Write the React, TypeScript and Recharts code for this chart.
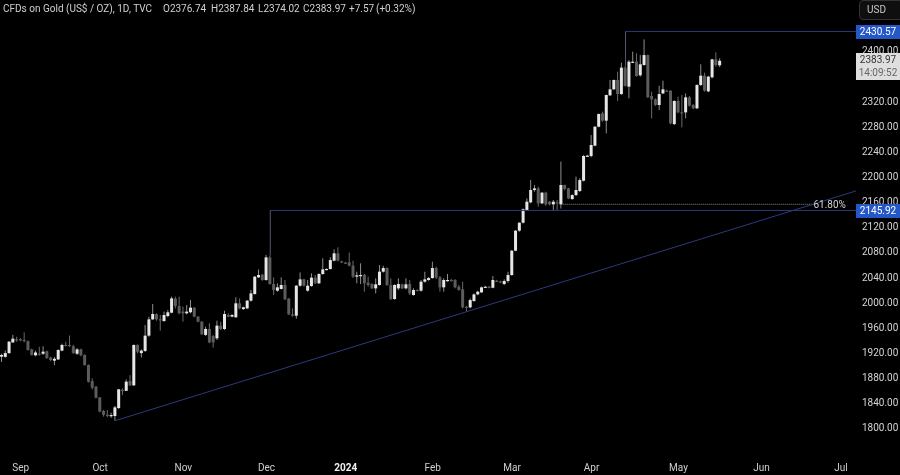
import React from 'react';
import { ComposedChart, Bar, XAxis, YAxis, ReferenceLine, ReferenceDot } from 'recharts';

// [open, high, low, close]
const candlesSepOct: number[][] = [
[1913.4,1918,1905,1916],[1913,1923,1912,1919],[1919,1938,1918,1937.2],[1936,1948,1935.6,1942],[1941,1945,1937,1940],[1941,1943,1938,1940.3],
[1940,1952,1936,1939],[1938,1939,1923,1924],[1925,1926,1915,1916],[1915.5,1923,1914,1920],[1918,1929,1915,1917],
[1918,1930,1916,1921.3],[1922,1923,1910,1911],[1912,1913,1906,1908],[1907,1913,1900,1910],[1909,1925,1908,1924],
[1923,1934,1922,1932],[1932,1937,1930,1931],[1932,1947,1929,1931],[1930,1932,1918,1919],[1918,1927,1916,1925],
[1925,1926,1914,1915.5],[1916,1917,1899,1900],[1900,1901,1872,1873.6],[1874.6,1879,1861,1864],[1865.6,1867,1847,1848],
[1848.6,1849,1825,1826],[1827,1828.5,1818,1821],[1821,1828.5,1817,1820],[1820,1824.3,1816,1820.5],[1819,1835,1811.6,1832.7],
[1831.7,1862,1830,1861.4],[1860.5,1863,1852,1859],[1859,1877,1858.7,1873.6],[1874.6,1884,1866.7,1867.7],[1867.7,1932.6,1867,1932],
[1932,1933,1918.7,1921.3],[1919,1925,1912,1923],[1922.4,1963.7,1921,1946.8],[1946.8,1977,1945,1972.7],[1972.7,1997,1971.7,1981.2],
[1981,1982.3,1970.6,1972.7],[1973,1979.6,1954.7,1972.5],[1970,1985,1969,1979.6],[1978,1987.6,1976,1983.9],[1983.3,2008.8,1982.3,2006],
[2006,2008.8,1990,1994],[1994,2008.8,1980.7,1982.3],
];
const candlesNovDec: number[][] = [
[1985,1993,1969,1982.3],[1982.3,1995.5,1980.7,1985],[1984,2003.5,1982.3,1991.3],[1991.3,1992,1976,1977],[1977,1978,1968,1969],
[1969,1970,1947.8,1948.9],[1948,1961,1946.2,1957.4],[1957.4,1966.4,1934.6,1936],[1946,1947.8,1927.7,1936],[1942.5,1970.6,1939.9,1962.7],
[1962.7,1969,1955.8,1957.4],[1957.4,1986.5,1955.8,1981.2],[1979.6,1982.3,1976,1977],[1977,1981,1976,1979.6],[1976,2007.7,1975.4,1998.2],
[1998.2,2006,1988.6,1990.2],[1989,1993,1988,1991.8],[1990.2,2003.5,1989,2002.4],[2002.4,2019.4,2000.8,2014],[2013,2041.6,2012,2040.6],
[2039.5,2052,2038.4,2043.2],[2043.7,2044.8,2034,2035.3],[2035.3,2075,2034,2071.3],[2071.3,2074,2028,2028.9],[2028.9,2039.5,2011.4,2019.3],
[2018.3,2030,2016.7,2023.6],[2021,2039.5,2020.4,2027.3],[2027.3,2035.3,2003.4,2004.5],[2005.6,2006.5,1979.5,1980.6],[1980.6,1990,1977,1978.5],
[1978.5,2027.3,1973.7,2026.2],[2026.2,2047.4,2024.6,2036.3],[2036.3,2037.3,2025,2026.2],[2018.3,2035.3,2016.7,2026.2],[2025.7,2045.9,2024.6,2039],
[2039,2043.2,2028.9,2030],[2030,2046,2029,2044.8],[2044.8,2069.7,2043.7,2052.2],[2052.2,2054,2051,2052.8],[2052.7,2071.3,2052.2,2067],
[2066,2084,2065,2077.7],[2077.7,2087.2,2065,2066],[2065,2066,2062,2063.4],
];
const candlesJanFeb: number[][] = [
[2063,2064,2061,2062.4],[2063.4,2078.7,2057,2058],[2058,2066,2038.4,2040.6],[2040.6,2048.5,2030,2042.7],[2041.6,2061.8,2028.9,2043.2],
[2043.7,2044.8,2016.7,2030],[2031,2040.6,2024.6,2027.3],[2028.9,2030,2021,2022],[2022,2037.9,2014,2028.4],[2027.3,2059,2026.2,2048.5],
[2048.5,2058,2047,2054.3],[2054.3,2055.3,2026,2027.3],[2027.3,2037.9,2003.4,2005],[2005,2028.5,2004,2027.3],[2022,2037.9,2019.3,2028.9],
[2028.4,2029.5,2021,2022],[2022,2037.9,2020.4,2028.4],[2028.9,2035.3,2011.4,2014],[2011.4,2022,2010.3,2019.3],[2019.3,2020.5,2018,2019],
[2018.3,2035.3,2016.7,2032.6],[2032.6,2048.5,2031,2036.3],[2035.3,2040,2034,2038.4],[2038.4,2064.4,2037.4,2054.3],[2054.3,2056.5,2036.8,2039],
[2039.5,2041.6,2016.7,2023.6],[2023.6,2037.9,2016.7,2035.3],[2035,2044.8,2032.6,2035.3],[2035.3,2037,2033,2034.8],[2035.3,2036.8,2022,2023.6],
[2024.6,2027.3,2018.3,2019.3],[2020.4,2032.6,1990.2,1991.8],[1992.8,1994,1984.9,1991.2],[1991.8,2006,1990.2,2003.4],[2001.8,2014,2000.8,2012.4],
[2012.4,2018,2011,2016.7],[2015.6,2025,2015,2023.6],[2023.6,2026,2023,2024.6],[2024.6,2026,2022,2023],[2023,2041.6,2022,2035.3],
[2034,2035.5,2033,2033.7],[2033,2034,2031,2032.6],[2028.9,2036.3,2027.3,2033.7],[2033.7,2048.5,2031,2043.2],
];
const candlesMarMay: number[][] = [
[2043.2,2083,2042,2081.9],[2081.9,2114.8,2081,2113.7],[2113.7,2127,2112,2126.4],[2126.4,2149,2125,2147.7],[2146.6,2165,2146,2159.8],
[2158.8,2194.3,2157.2,2178.4],[2178.4,2186.3,2175.7,2181],[2181,2183.7,2151.9,2157.2],[2157.2,2175,2156,2174.2],[2174.2,2175.7,2153,2155.6],
[2159.8,2161,2154,2155.6],[2155.6,2162.5,2145.5,2159.8],[2158.8,2162.5,2146.6,2158.2],[2155.6,2223.5,2149,2186.3],[2186.3,2187,2178,2180],
[2181,2182,2164,2165],[2164,2171.5,2163,2170.4],[2170.4,2199.6,2168.8,2178.4],[2176.8,2197,2175.2,2194.3],[2193.2,2234,2192,2232.5],
[2232.5,2234.5,2231,2233],[2232.5,2265.9,2230.4,2250],[2248.9,2280,2248,2279.1],[2279.1,2300,2278,2299.3],[2300.3,2303,2287,2288.7],
[2288.7,2330,2268.5,2329.5],[2329,2353.4,2328,2338.5],[2338.5,2354,2338,2353.4],[2353.4,2366.6,2320,2331.1],[2331.1,2381,2329.5,2373],
[2373,2376,2343,2343.8],[2342.8,2385,2324.2,2382.5],[2382,2398.4,2381,2382.5],[2382.5,2395.8,2358.7,2359.7],[2360.8,2393,2358.7,2378.3],
[2377.2,2418,2376.2,2393],[2393,2394,2325,2325.8],[2327.9,2334.8,2292.4,2322.6],[2322.6,2324.2,2312,2313.6],[2313.6,2344.3,2305.6,2331],
[2332,2352.3,2331,2338.5],[2336.4,2338,2335,2336],[2336.4,2337,2283,2284.4],[2283.3,2321,2281.8,2320],[2320,2326.9,2300.3,2302],
[2302,2329.5,2278,2301.5],[2301.9,2332,2292.4,2325.8],[2325.8,2328,2311,2312.5],[2313.6,2315,2307,2308.3],[2308.3,2346.5,2307,2345.4],
[2345.4,2378.3,2343.8,2360.2],[2360.2,2365,2334.8,2336.4],[2335.3,2360,2334,2358.7],[2357.6,2387,2356,2386.2],[2386.2,2397.4,2374.6,2377.2],
[2376.74,2387.84,2374.02,2383.97],
];
const bandCount = 227;
const monthTicks = [5, 26, 48, 70, 91, 114, 135, 156, 179, 201, 222];
const monthLabels = ['Sep', 'Oct', 'Nov', 'Dec', '2024', 'Feb', 'Mar', 'Apr', 'May', 'Jun', 'Jul'];
const priceTicks = [1800, 1840, 1880, 1920, 1960, 2000, 2040, 2080, 2120, 2160, 2200, 2240, 2280, 2320, 2400];
const athLevel = 2430.57;
const fibLevel = 2145.92;
const fibDotted = 2155.7;

const candles = [...candlesSepOct, ...candlesNovDec, ...candlesJanFeb, ...candlesMarMay];
const rows = Array.from({ length: bandCount }, (_, i) => {
  const c = candles[i];
  return c
    ? { i, open: c[0], high: c[1], low: c[2], close: c[3], range: [c[2], c[1]] }
    : { i, range: null };
});

const Candle = (props: any) => {
  const { x, y, width, height, payload } = props;
  if (!payload || payload.high == null) return null;
  const top = Math.min(y, y + height);
  const h = Math.abs(height);
  const ratio = h / (payload.high - payload.low);
  const py = (p: number) => top + (payload.high - p) * ratio;
  const up = payload.close >= payload.open;
  const cx = x + width / 2;
  const bodyTop = py(Math.max(payload.open, payload.close));
  const bodyH = Math.max(1.2, Math.abs(payload.close - payload.open) * ratio);
  return (
    <g>
      <line x1={cx} x2={cx} y1={top} y2={top + h} stroke={up ? '#8f8f8f' : '#6a6a6a'} strokeWidth={1} />
      <rect x={x} y={bodyTop} width={width} height={bodyH} fill={up ? '#e6e6e6' : '#5c5c5c'} />
    </g>
  );
};

const MonthTick = (props: any) => {
  const { x, y, payload } = props;
  const label = monthLabels[monthTicks.indexOf(payload.value)];
  return (
    <text x={x} y={y + 13} textAnchor="middle" fontFamily="Roboto" fontSize={10}
      fill={label === '2024' ? '#f0f0f0' : '#cfcfcf'} fontWeight={label === '2024' ? 700 : 400}>
      {label}
    </text>
  );
};

const font = "Roboto, sans-serif";
const legend: [string, number][] = [
  ['CFDs on Gold (US$ / OZ), 1D, TVC', 3],
  ['O2376.74', 163],
  ['H2387.84', 211],
  ['L2374.02', 258],
  ['C2383.97', 303],
  ['+7.57', 349],
  ['(+0.32%)', 376],
];
const tag = (top: number): React.CSSProperties => ({
  position: 'absolute', left: 856, top, width: 44, height: 14, background: '#2458c8', color: '#fff',
  fontSize: 10, lineHeight: '14px', textAlign: 'center',
});

export default function App() {
  return (
    <div style={{ position: 'fixed', left: 0, top: 0, width: 900, height: 475, background: '#000', overflow: 'hidden', fontFamily: font, filter: 'blur(0.3px)' }}>
      <ComposedChart width={900} height={475} data={rows} barSize={3} margin={{ top: 0, right: 0, bottom: 0, left: 0 }}>
        <XAxis dataKey="i" type="category" ticks={monthTicks} interval={0} height={17} tickSize={0} tickMargin={0}
          tickLine={false} axisLine={false} tick={<MonthTick />} />
        <YAxis orientation="right" width={42} domain={[1752.2, 2480.6]} ticks={priceTicks} interval={0} allowDataOverflow
          tickFormatter={(v: number) => v.toFixed(2)} tickLine={false} axisLine={false} tickSize={0} tickMargin={4}
          tick={{ fill: '#d4d4d4', fontSize: 10, fontFamily: 'Roboto' }} />
        <ReferenceLine segment={[{ x: 165, y: athLevel }, { x: 226, y: athLevel }]} stroke="#2c3a7e" strokeWidth={1} />
        <ReferenceLine segment={[{ x: 165, y: 2376 }, { x: 165, y: athLevel }]} stroke="#55586e" strokeWidth={1} />
        <ReferenceLine segment={[{ x: 71, y: fibLevel }, { x: 226, y: fibLevel }]} stroke="#2c3a7e" strokeWidth={1} />
        <ReferenceLine segment={[{ x: 71, y: 2074 }, { x: 71, y: fibLevel }]} stroke="#55586e" strokeWidth={1} />
        <ReferenceLine segment={[{ x: 148, y: fibDotted }, { x: 215, y: fibDotted }]} stroke="#8a8a8a" strokeWidth={1} strokeDasharray="1 1" />
        <ReferenceLine segment={[{ x: 30, y: 1811.6 }, { x: 226, y: 2177 }]} stroke="#2c3a7e" strokeWidth={1} />
        <Bar dataKey="range" shape={<Candle />} isAnimationActive={false} />
        <ReferenceDot x={219} y={fibDotted} r={0} fill="none" stroke="none"
          label={{ value: '61.80%', fill: '#d4d4d4', fontSize: 10, fontFamily: 'Roboto', position: 'center' }} />
      </ComposedChart>

      {legend.map(([text, left]) => (
        <div key={text} style={{ position: 'absolute', left, top: 2, fontSize: 10, lineHeight: '14px', color: '#d0d0d0', whiteSpace: 'nowrap' }}>{text}</div>
      ))}
      <div style={tag(25)}>2430.57</div>
      <div style={tag(204)}>2145.92</div>
      <div style={{ position: 'absolute', left: 856, top: 53, width: 44, height: 27, background: '#dedede', color: '#333', fontSize: 10, lineHeight: '13px', textAlign: 'center' }}>
        <div>2383.97</div>
        <div style={{ color: '#666' }}>14:09:52</div>
      </div>
      <div style={{ position: 'absolute', left: 859, top: 0, width: 44, height: 20, background: '#0f0f0f', border: '1px solid #333', borderRadius: 4, color: '#c8c8c8', fontSize: 10, lineHeight: '18px', paddingLeft: 7, boxSizing: 'border-box' }}>USD</div>
    </div>
  );
}
